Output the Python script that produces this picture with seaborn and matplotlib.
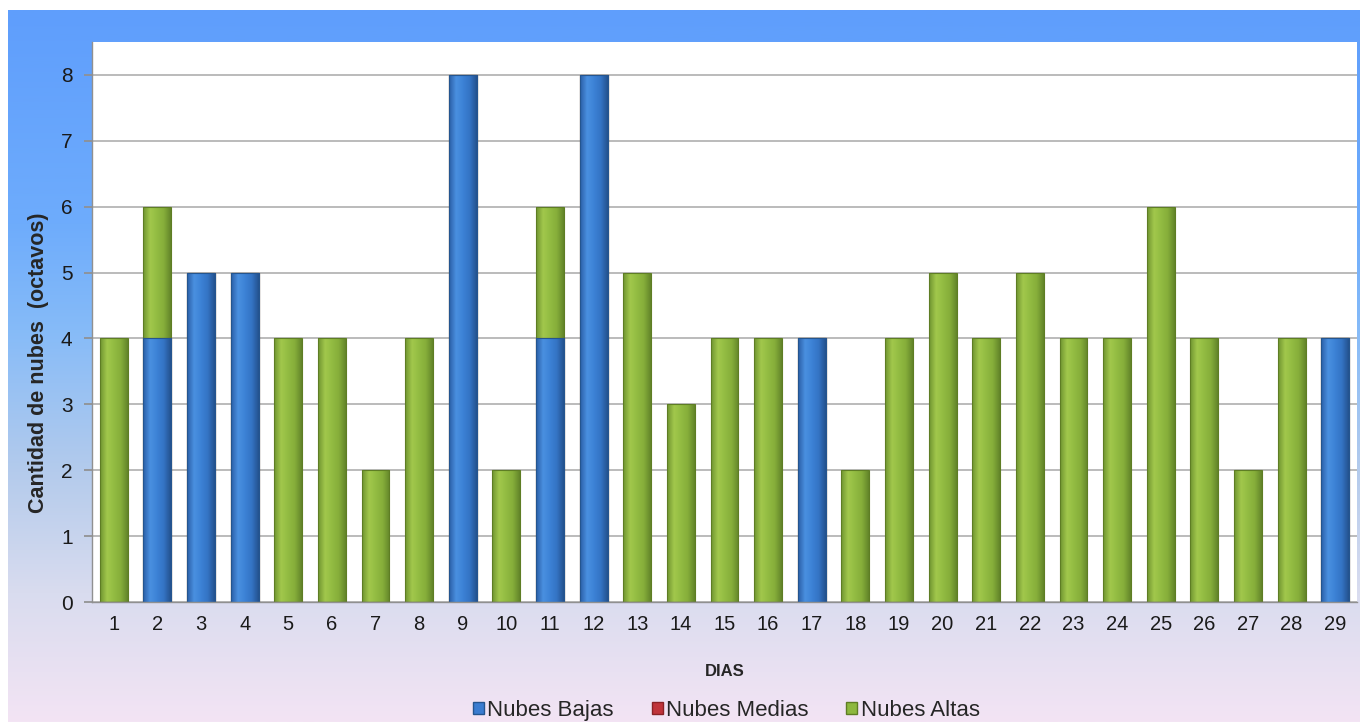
import numpy as np
import pandas as pd
import matplotlib.pyplot as plt
from matplotlib.colors import LinearSegmentedColormap
from matplotlib.patches import Patch
import seaborn as sns

# data (octavos per day)
dias = [str(d) for d in range(1, 30)]
bajas = [0, 4, 5, 5, 0, 0, 0, 0, 8, 0, 4, 8, 0, 0, 0, 0, 4, 0, 0, 0, 0, 0, 0, 0, 0, 0, 0, 0, 4]
medias = [0] * 29
altas = [4, 2, 0, 0, 4, 4, 2, 4, 0, 2, 2, 0, 5, 3, 4, 4, 0, 2, 4, 5, 4, 5, 4, 4, 6, 4, 2, 4, 0]

df = pd.DataFrame({"dia": dias, "bajas": bajas, "medias": medias, "altas": altas})
df["total"] = df["bajas"] + df["medias"] + df["altas"]
df["bajas_medias"] = df["bajas"] + df["medias"]

sns.set_theme(style="white")
plt.rcParams["font.family"] = ["Liberation Sans", "DejaVu Sans"]

c_bajas = "#3a7cd0"
c_medias = "#c0343a"
c_altas = "#8db83e"

# horizontal shading for the bars (darker sides, lighter left third)
shades = {
    "altas": ["#6f9430", "#a2c84c", "#92bc42", "#86ae3a", "#63852a"],
    "medias": ["#8a2226", "#d44a4e", "#c0343a", "#ac2c32", "#7a1e22"],
    "bajas": ["#2a5ea6", "#4a90e0", "#3c82d6", "#3474c4", "#24528f"],
}
edges = {"altas": "#5e7d24", "medias": "#8a2226", "bajas": "#24558f"}

fig = plt.figure(figsize=(13.6, 7.22), dpi=100)

# gradient background of the chart area
bg = fig.add_axes([8 / 1360, 0, 1 - 8 / 1360, 1 - 10 / 722])
cmap = LinearSegmentedColormap.from_list(
    "bg", [(0.0, "#5f9efc"), (0.3, "#6eacfc"), (0.45, "#86bbf8"),
           (0.65, "#b4cbec"), (0.82, "#d9dcef"), (1.0, "#f3e4f4")])
grad = np.linspace(0, 1, 256).reshape(-1, 1)
bg.imshow(grad, aspect="auto", cmap=cmap, extent=[0, 1, 0, 1], origin="upper")
bg.set_axis_off()

ax = fig.add_axes([92 / 1360, 1 - 602 / 722, (1357 - 92) / 1360, (602 - 42) / 722])
ax.set_facecolor("white")

# stacked bars: totals first, then the lower stacks drawn over them
layers = [("total", "altas", c_altas), ("bajas_medias", "medias", c_medias), ("bajas", "bajas", c_bajas)]
hx = np.linspace(0, 1, 64).reshape(1, -1)
for k, (col, name, color) in enumerate(layers):
    n_before = len(ax.patches)
    z = 3 + 2 * k
    sns.barplot(data=df, x="dia", y=col, color=color, width=0.64,
                saturation=1, edgecolor=edges[name], linewidth=0.8, ax=ax, zorder=z)
    bar_cmap = LinearSegmentedColormap.from_list(name, shades[name])
    for p in ax.patches[n_before:]:
        if p.get_height() <= 0:
            continue
        x0, y0 = p.get_x(), p.get_y()
        im = ax.imshow(hx, cmap=bar_cmap, aspect="auto", zorder=z - 0.5,
                       extent=[x0, x0 + p.get_width(), y0, y0 + p.get_height()])
        im.set_clip_path(p)
        p.set_facecolor("none")

ax.set_xlim(-0.5, len(dias) - 0.5)
ax.set_ylim(0, 8.5)
ax.set_yticks(range(0, 9))
ax.yaxis.grid(True, color="#a8a8a8", linewidth=1.1, zorder=0)
ax.set_axisbelow(True)

for s in ["top", "right"]:
    ax.spines[s].set_visible(False)
for s in ["left", "bottom"]:
    ax.spines[s].set_color("#909090")
    ax.spines[s].set_linewidth(1.0)
    ax.spines[s].set_zorder(10)

ax.tick_params(axis="x", length=0, labelsize=14.5, pad=9, colors="#1a1a1a")
ax.set_xticks(np.arange(-0.5, len(dias), 1), minor=True)
ax.tick_params(axis="x", which="minor", length=6, color="#909090", width=1)
ax.tick_params(axis="y", length=6, color="#909090", labelsize=15, pad=8,
               colors="#1a1a1a", left=True)

ax.set_xlabel("DIAS", fontsize=12, fontweight="bold", labelpad=22)
ax.set_ylabel("Cantidad de nubes  (octavos)", fontsize=15.5, fontweight="bold")
ax.yaxis.set_label_coords(-0.034, 0.427)

handles = [Patch(facecolor=c_bajas, edgecolor=edges["bajas"]),
           Patch(facecolor=c_medias, edgecolor=edges["medias"]),
           Patch(facecolor=c_altas, edgecolor=edges["altas"])]
fig.legend(handles, ["Nubes Bajas", "Nubes Medias", "Nubes Altas"],
           loc="center", bbox_to_anchor=(0.534, 0.016), ncol=3,
           frameon=False, fontsize=16, handlelength=0.5, handleheight=0.5,
           handletextpad=0.15, columnspacing=1.7, borderpad=0)

fig.savefig("out.png", dpi=100)
